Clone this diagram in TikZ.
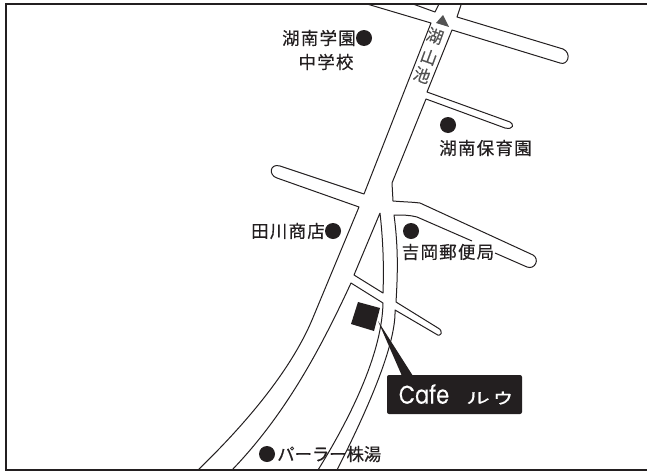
\documentclass[tikz,border=0pt]{standalone}
\usepackage{fontspec}
\newfontfamily\cjk[LetterSpace=7,FakeBold=0.4]{Noto Sans CJK JP}
\newfontfamily\cjktight[LetterSpace=-1,FakeBold=0.4]{Noto Sans CJK JP}
\newfontfamily\cjkgap[FakeBold=0.3]{Noto Sans CJK JP}
\newfontfamily\cjkheavy[FakeBold=0.5]{Noto Sans CJK JP}
\newfontfamily\cafefont[FakeBold=0.25]{Poppins}
\definecolor{ink}{HTML}{231F20}
\tikzset{
  road/.style={draw=ink,line width=1pt,line join=round},
  lbl/.style={font=\cjk\fontsize{17.5}{19}\selectfont,text=ink,inner sep=0pt},
  dot/.style={circle,fill=ink,minimum size=16pt,inner sep=0pt},
  lake/.style={font=\cjkgap\fontsize{16.5}{18}\selectfont,text=black!68,inner sep=0pt,rotate=-20}
}
\begin{document}
\begin{tikzpicture}[x=1pt,y=-1pt]
\useasboundingbox (0,0) rectangle (647,471);
\draw[ink,line width=2pt] (647,3.5) -- (6,3.5) -- (6,470);
\draw[ink,line width=1.4pt] (5,470) -- (647,470);
% main road and branches
\draw[road] (367,4) -- (431,23) -- (364,194) -- (280,166) .. controls (270,163) and (268,175) .. (277,178) -- (359,207) -- (312,320);
\draw[road] (413,4) -- (435,12) -- (439,4);
\draw[road] (461,5) -- (457,17) -- (563,49) .. controls (572,53) and (568,66) .. (560,63) -- (452,30) -- (427,92) -- (510,122) .. controls (514,124) and (514,130) .. (505,128) -- (426,99) -- (392,183) -- (393,201) .. controls (405,202) and (412,202) .. (420,203) -- (533,255) .. controls (540,259) and (535,270) .. (527,267) -- (495,253);
\draw[road] (472,241) -- (417,217) .. controls (410,215) and (402,215) .. (394,215) .. controls (398,245) and (398,270) .. (396,302) -- (438,328) .. controls (444,331) and (441,338) .. (436,334) -- (395,310) .. controls (396,340) and (375,395) .. (337,470);
\draw[road] (380,213) -- (354,275) -- (383,293) .. controls (384,265) and (383,240) .. (380,213);
\draw[road] (232,470) .. controls (285,415) and (320,350) .. (351,283) -- (383,303) .. controls (382,350) and (355,410) .. (318,470);
\draw[road] (312,320) .. controls (295,360) and (260,410) .. (198,470);
% cafe marker
\fill[ink] (358,302) -- (380,308) -- (374,331) -- (351,324) -- cycle;
\node[fill=ink,rounded corners=2pt,minimum width=135pt,minimum height=39pt,inner sep=0pt] (cafe) at (454.5,394.5) {};
\coordinate (tip) at (378,321);
\fill[ink] (tip) -- (413,376) -- (402,376) -- cycle;
\node[inner sep=0pt,text=white,font=\cafefont\fontsize{21}{24}\selectfont,xscale=1,yscale=1.22,transform shape] (cafename) at (424,394) {Cafe};
\node[inner sep=0pt,text=white,font=\cjkheavy\fontsize{22}{24}\selectfont,xscale=1.08,yscale=.68,transform shape] (ru) at (478,398) {ル};
\node[inner sep=0pt,text=white,font=\cjkheavy\fontsize{22}{24}\selectfont,xscale=1.05,yscale=.85,transform shape] (u) at (503,398) {ゥ};
% lake
\fill[black!68] (443,15) -- (436,23) -- (449,27) -- cycle;
\node[lake] (l1) at (435,36) {湖};
\node[lake] (l2) at (429,57) {山};
\node[lake] (l3) at (422,75) {池};
% dots
\node[dot] (d1) at (364,38) {};
\node[dot] (d2) at (448,125) {};
\node[dot] (d3) at (333,231) {};
\node[dot] (d4) at (411,231) {};
\node[dot] (d5) at (267,454) {};
% labels
\node[lbl,anchor=east] (t1) at (356,38) {湖南学園};
\node[lbl] (t1b) at (326,62) {中学校};
\node[lbl] (t2) at (485.5,148) {湖南保育園};
\node[lbl,anchor=east] (t3) at (325,231) {田川商店};
\node[lbl] (t4) at (448,252) {吉岡郵便局};
\node[lbl,anchor=west,font=\cjktight\fontsize{17.5}{19}\selectfont] (t5) at (277,454) {パーラー株湯};
\end{tikzpicture}
\end{document}
